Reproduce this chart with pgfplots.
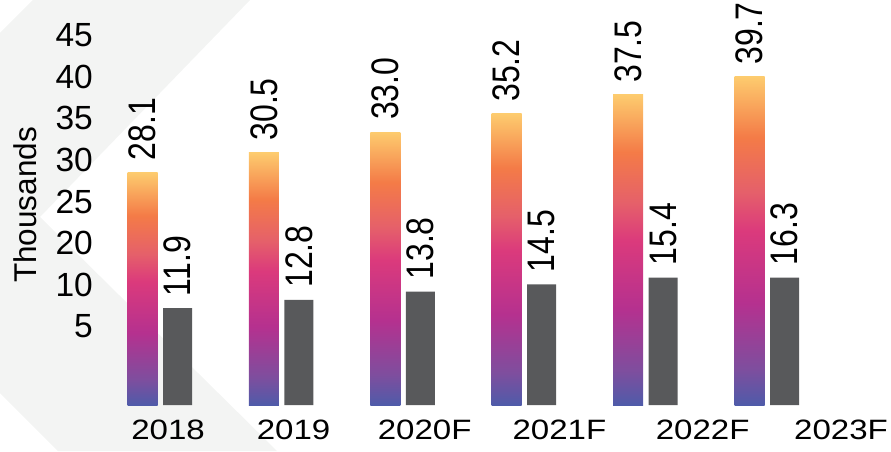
\documentclass[border=0pt]{standalone}
\usepackage{fontspec}
\setmainfont{Liberation Sans}
\usepackage{pgfplots}
\pgfplotsset{compat=1.18}
\definecolor{bgc}{HTML}{F3F4F3}
\definecolor{barg}{HTML}{58595B}
\definecolor{ca}{HTML}{4F5BA9}
\definecolor{cb}{HTML}{7E4E9E}
\definecolor{cc}{HTML}{B5318F}
\definecolor{cd}{HTML}{DB3A7C}
\definecolor{ce}{HTML}{E5606A}
\definecolor{cf}{HTML}{F47B47}
\definecolor{cg}{HTML}{FDCB6E}
\pgfdeclareverticalshading{bargrad}{100bp}{color(0bp)=(ca); color(25bp)=(ca); color(30.5bp)=(cb); color(40.5bp)=(cc); color(51.5bp)=(cd); color(57.5bp)=(ce); color(65.75bp)=(cf); color(75bp)=(cg); color(100bp)=(cg)}
\begin{document}
\begin{tikzpicture}
\useasboundingbox (0pt,0pt) rectangle (891pt,451pt);
\fill[bgc] (33pt,451pt) -- (250pt,451pt) -- (40pt,234pt) -- (277pt,0pt) -- (58pt,0pt) -- (0pt,58pt) -- (0pt,418pt) -- cycle;
\begin{axis}[
  at={(93pt,46pt)}, anchor=south west, scale only axis,
  x=121.4pt, y=8.27pt,
  xmin=-0.552, xmax=6.02, ymin=0, ymax=49,
  axis line style={draw=none}, major tick length=0pt,
  /pgf/number format/assume math mode=true,
  xtick={0.066,1.10,2.18,3.29,4.47,5.61},
  xticklabels={\scalebox{1.18}[1]{2018},\scalebox{1.18}[1]{2019},\scalebox{1.18}[1]{2020F},\scalebox{1.18}[1]{2021F},\scalebox{1.18}[1]{2022F},\scalebox{1.18}[1]{2023F}},
  ytick={9.5,14.5,19.6,24.6,29.6,34.7,39.7,44.7},
  yticklabels={5,10,20,25,30,35,40,45},
  xticklabel style={font=\fontsize{28}{30}\selectfont, anchor=north, inner sep=0pt, yshift=-15pt},
  yticklabel style={font=\fontsize{33.5}{36}\selectfont, anchor=east, inner sep=0pt},
  ybar, clip=false,
  point meta=explicit symbolic,
  nodes near coords={\scalebox{1}[1.2]{\pgfplotspointmeta}},
  every node near coord/.append style={rotate=90, anchor=west, inner xsep=12pt, inner ysep=0pt, font=\fontsize{32}{34}\selectfont, text=black},
  grad/.style={draw=none, shade, shading=bargrad, bar shift=-17.5pt, bar width=30pt},
]
\addplot[grad] coordinates {(0,28.1)[28.1]};
\addplot[grad] coordinates {(1,30.5)[30.5]};
\addplot[grad] coordinates {(2,33.0)[33.0]};
\addplot[grad] coordinates {(3,35.2)[35.2]};
\addplot[grad] coordinates {(4,37.5)[37.5]};
\addplot[grad] coordinates {(5,39.7)[39.7]};
\addplot[draw=none, fill=barg, bar shift=17.5pt, bar width=29pt]
  coordinates {(0,11.7)[11.9] (1,12.7)[12.8] (2,13.7)[13.8] (3,14.6)[14.5] (4,15.4)[15.4] (5,15.4)[16.3]};
\end{axis}
\node[rotate=90, font=\fontsize{31.5}{33}\selectfont, inner sep=0pt] at (25pt,246pt) {Thousands};
\end{tikzpicture}
\end{document}
